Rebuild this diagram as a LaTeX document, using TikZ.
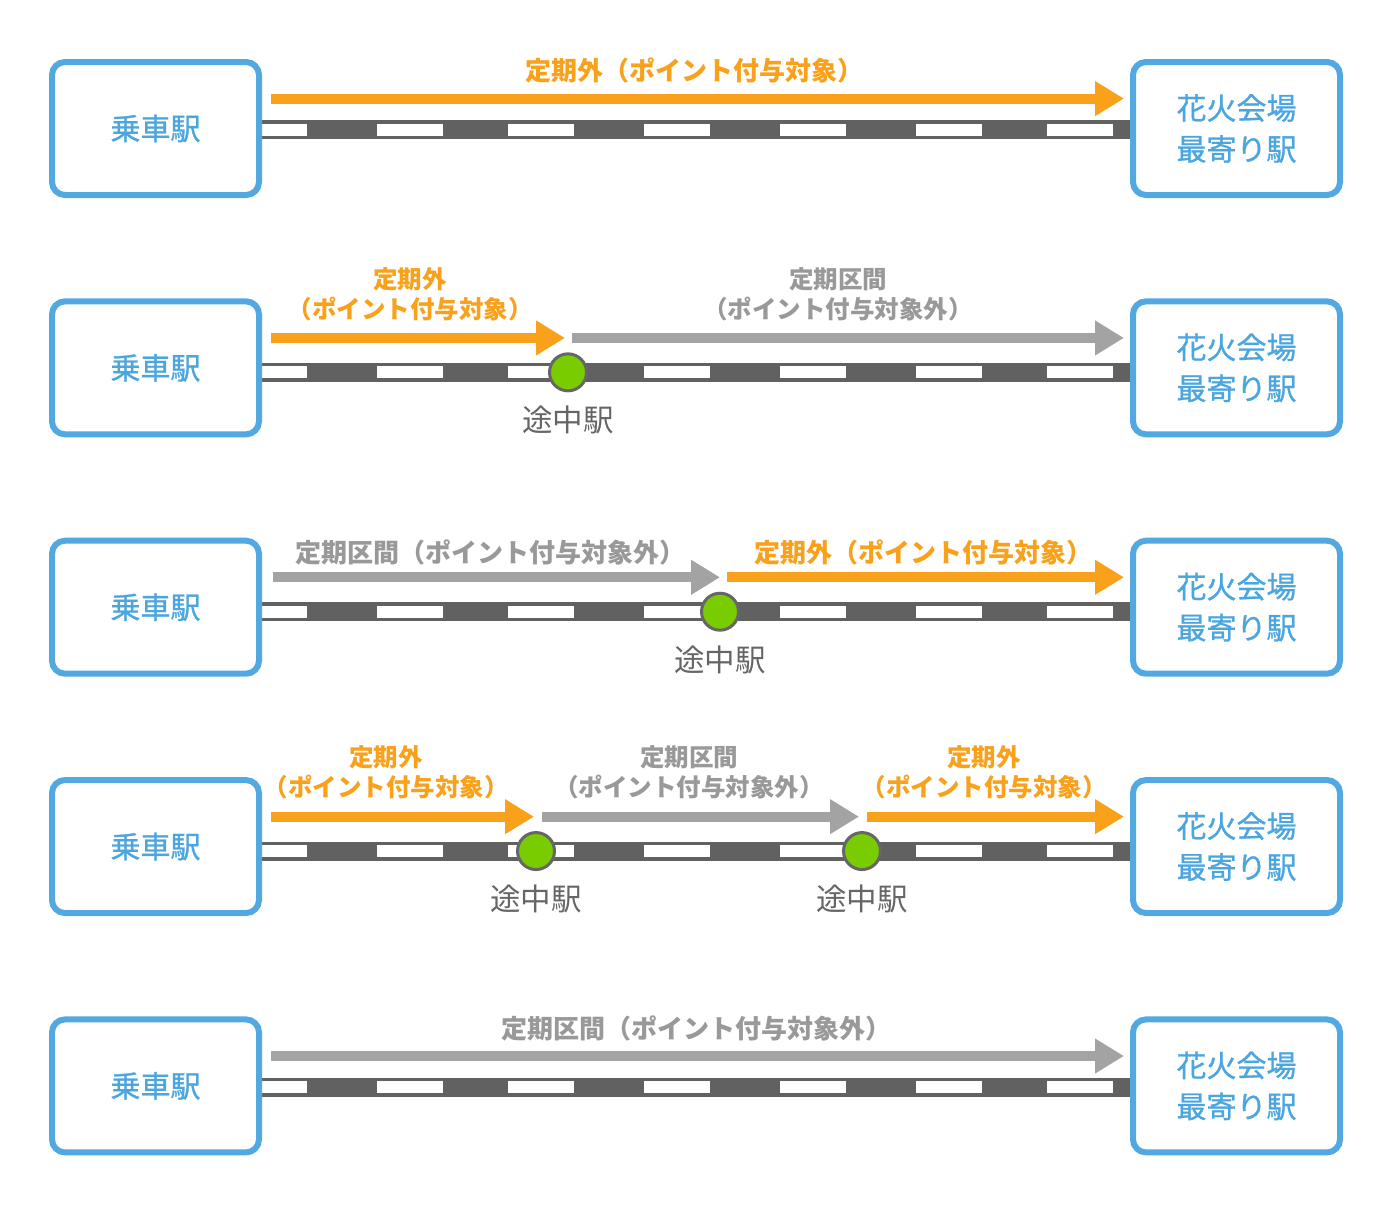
\documentclass[tikz,border=0pt]{standalone}
\usepackage{fontspec}
\setmainfont{Noto Sans CJK JP}
\newfontfamily\boxfont{Noto Sans CJK JP}[FakeBold=0.9]
\usetikzlibrary{arrows.meta}
\definecolor{boxblue}{HTML}{52A9E2}
\definecolor{txtblue}{HTML}{4BA5DE}
\definecolor{orng}{HTML}{F9A11B}
\definecolor{garrow}{HTML}{A3A3A3}
\definecolor{glabel}{HTML}{999999}
\definecolor{rail}{HTML}{616161}
\definecolor{stgreen}{HTML}{78CC00}
\definecolor{stborder}{HTML}{666666}
\definecolor{sttext}{HTML}{666666}
\newcommand{\railtrack}[1]{%
  \fill[rail] (262,#1-9.5) rectangle (1130,#1+9.5);
  \foreach \a/\b in {262/307,377/443,508/574,644/710,780/846,916/982,1047/1113}
    \fill[white] (\a,#1-6) rectangle (\b,#1+6);
}
\begin{document}
\begin{tikzpicture}[x=1pt,y=-1pt,
  stationbox/.style={draw=boxblue, line width=6pt, rounded corners=13pt, fill=white,
    minimum width=207pt, minimum height=133pt, text=txtblue, font=\boxfont\fontsize{30}{41}\selectfont, align=center, inner sep=0pt},
  orangearrow/.style={draw=orng, line width=10pt, -{Triangle[length=29pt,width=33pt]}},
  grayarrow/.style={draw=garrow, line width=10pt, -{Triangle[length=29pt,width=33pt]}},
  olabel/.style={text=orng, font=\bfseries\fontsize{26}{30}\selectfont, align=center, inner sep=0pt},
  glab/.style={text=glabel, font=\bfseries\fontsize{26}{30}\selectfont, align=center, inner sep=0pt},
  olabeltwo/.style={text=orng, font=\bfseries\fontsize{24.5}{30}\selectfont, align=center, inner sep=0pt},
  glabtwo/.style={text=glabel, font=\bfseries\fontsize{24.5}{30}\selectfont, align=center, inner sep=0pt},
  midstation/.style={circle, draw=stborder, line width=3pt, fill=stgreen, minimum size=37pt, inner sep=0pt},
  stlabel/.style={text=sttext, font=\fontsize{30.5}{36}\selectfont, inner sep=0pt}
]
\useasboundingbox (0,0) rectangle (1400,1210);
\fill[white] (0,0) rectangle (1400,1210);

% ---------- Row 1 ----------
\railtrack{129.8}
\node[stationbox] (b1) at (155.5,128.5) {乗車駅};
\node[stationbox] (e1) at (1236.5,128.5) {花火会場\\最寄り駅};
\coordinate (r1s) at (271,98.6);
\coordinate (r1e) at (1124,98.6);
\draw[orangearrow] (r1s) -- (r1e);
\node[olabel] (l1) at (694,70) {定期外（ポイント付与対象）};

% ---------- Row 2 ----------
\railtrack{372.35}
\node[stationbox] (b2) at (155.5,367.85) {乗車駅};
\node[stationbox] (e2) at (1236.5,367.85) {花火会場\\最寄り駅};
\node[midstation] (m2) at (568,372.35) {};
\node[stlabel] (t2) at (568,420.35) {途中駅};
\coordinate (r2s) at (271,337.95);
\coordinate (r2a) at (565,337.95);
\coordinate (r2b) at (572,337.95);
\coordinate (r2e) at (1124,337.95);
\draw[orangearrow] (r2s) -- (r2a);
\draw[grayarrow] (r2b) -- (r2e);
\node[olabeltwo] (l2a) at (410,294) {定期外\\（ポイント付与対象）};
\node[glabtwo] (l2b) at (838,294) {定期区間\\（ポイント付与対象外）};

% ---------- Row 3 ----------
\railtrack{611.7}
\node[stationbox] (b3) at (155.5,607.2) {乗車駅};
\node[stationbox] (e3) at (1236.5,607.2) {花火会場\\最寄り駅};
\node[midstation] (m3) at (720,611.7) {};
\node[stlabel] (t3) at (720,659.7) {途中駅};
\coordinate (r3s) at (273,577.3);
\coordinate (r3a) at (720,577.3);
\coordinate (r3b) at (727,577.3);
\coordinate (r3e) at (1124,577.3);
\draw[grayarrow] (r3s) -- (r3a);
\draw[orangearrow] (r3b) -- (r3e);
\node[glab] (l3a) at (490,552) {定期区間（ポイント付与対象外）};
\node[olabel] (l3b) at (923,552) {定期外（ポイント付与対象）};

% ---------- Row 4 ----------
\railtrack{851.05}
\node[stationbox] (b4) at (155.5,846.55) {乗車駅};
\node[stationbox] (e4) at (1236.5,846.55) {花火会場\\最寄り駅};
\node[midstation] (m4a) at (536,851.05) {};
\node[midstation] (m4b) at (862,851.05) {};
\node[stlabel] (t4a) at (536,899.05) {途中駅};
\node[stlabel] (t4b) at (862,899.05) {途中駅};
\coordinate (r4s) at (271,816.65);
\coordinate (r4a) at (534,816.65);
\coordinate (r4b) at (542,816.65);
\coordinate (r4c) at (859,816.65);
\coordinate (r4d) at (867,816.65);
\coordinate (r4e) at (1124,816.65);
\draw[orangearrow] (r4s) -- (r4a);
\draw[grayarrow] (r4b) -- (r4c);
\draw[orangearrow] (r4d) -- (r4e);
\node[olabeltwo] (l4a) at (386,772) {定期外\\（ポイント付与対象）};
\node[glabtwo] (l4b) at (689,772) {定期区間\\（ポイント付与対象外）};
\node[olabeltwo] (l4c) at (984,772) {定期外\\（ポイント付与対象）};

% ---------- Row 5 ----------
\railtrack{1087.2}
\node[stationbox] (b5) at (155.5,1085.9) {乗車駅};
\node[stationbox] (e5) at (1236.5,1085.9) {花火会場\\最寄り駅};
\coordinate (r5s) at (271,1056);
\coordinate (r5e) at (1124,1056);
\draw[grayarrow] (r5s) -- (r5e);
\node[glab] (l5) at (696,1028) {定期区間（ポイント付与対象外）};
\end{tikzpicture}
\end{document}
